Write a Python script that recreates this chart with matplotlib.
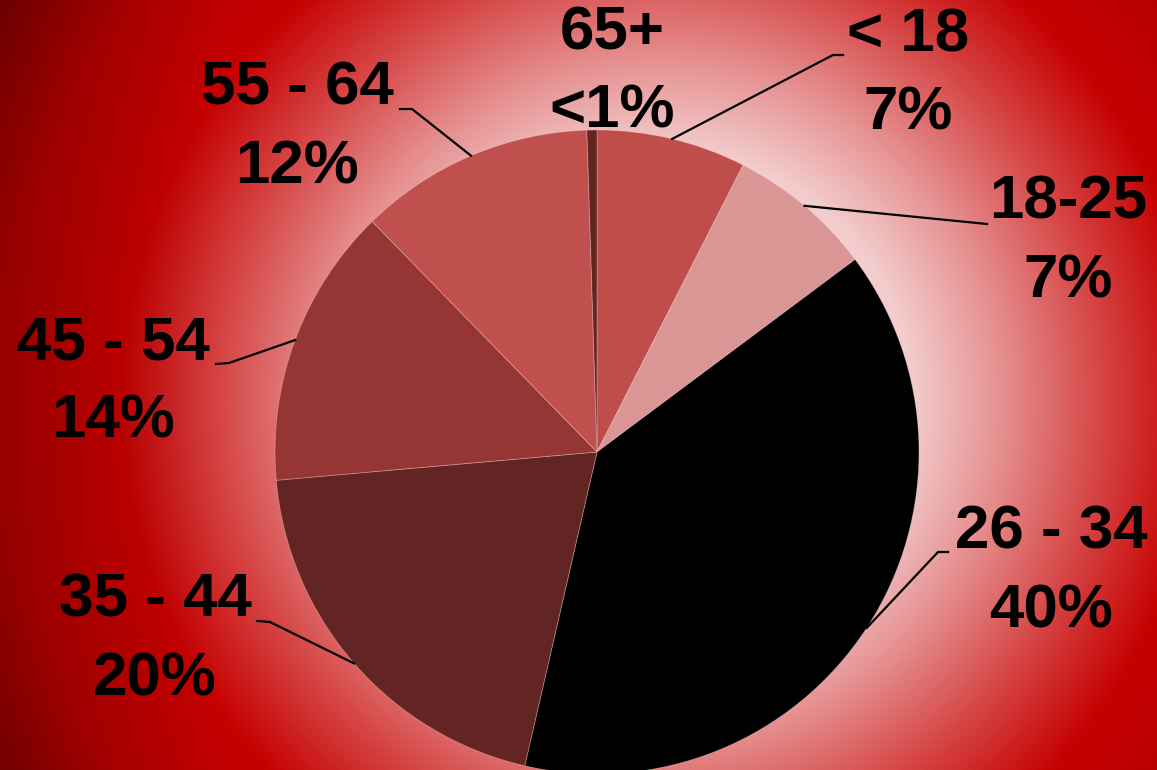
import numpy as np
import matplotlib.pyplot as plt

# datos del grafico (porcentaje por grupo de edad)
grupos = ['< 18', '18-25', '26 - 34', '35 - 44', '45 - 54', '55 - 64', '65+']
valores = [7.5, 7.3, 38.8, 20.0, 14.1, 11.8, 0.5]
etiquetas_pct = ['7%', '7%', '40%', '20%', '14%', '12%', '<1%']
colores = ['#BF4D4A', '#D99694', '#000000', '#632523', '#963634', '#C0504D', '#632523']

W, H = 1157, 770
fig = plt.figure(figsize=(W / 100, H / 100), dpi=100)
ax = fig.add_axes([0, 0, 1, 1])

# fondo con degradado radial (un poco mas oscuro hacia la izquierda)
yy, xx = np.mgrid[0:H, 0:W]
d = np.hypot(xx - 660, yy - 400)
paradas = [0, 250, 340, 440, 540, 660, 800]
r = np.interp(d, paradas, [255, 243, 230, 214, 198, 178, 115])
g = np.interp(d, paradas, [240, 205, 145, 70, 0, 0, 0])
b = np.interp(d, paradas, [240, 205, 145, 70, 0, 0, 0])
oscuro = 1 - 0.15 * np.clip((220 - xx) / 220, 0, 1)
fondo = np.dstack([r * oscuro, g * oscuro, b * oscuro]) / 255
ax.imshow(fondo, extent=(0, W, 0, H), origin='upper', zorder=0)

# pie
cx, cy, rad = 597, H - 452, 322
wedges, _ = ax.pie(valores, colors=colores, startangle=90, counterclock=False,
                   center=(cx, cy), radius=rad, frame=True,
                   wedgeprops=dict(linewidth=0.6, edgecolor=(1, 0.85, 0.85, 0.35)))
ax.set_xlim(0, W)
ax.set_ylim(0, H)
ax.axis('off')

# posicion de etiquetas (x centro, linea base de la 2a linea en pixeles) y lineas guia
pos_etq = [(908, 130), (1068, 297), (1051, 627), (155, 695), (113, 438), (297, 183), (612, 128)]
guias = [[(833, 55), (843, 55)],
         [(987, 224)],
         [(938, 552), (948, 552)],
         [(270, 622), (257, 621)],
         [(229, 363), (216, 364)],
         [(412, 109), (400, 109)],
         []]

for w, grupo, pct, (tx, ty), guia in zip(wedges, grupos, etiquetas_pct, pos_etq, guias):
    ax.text(tx, H - ty, f'{grupo}\n{pct}', ha='center', va='baseline',
            fontsize=44.6, fontweight='bold', family='Liberation Sans',
            linespacing=1.48, color='black', zorder=5)
    if guia:
        ang = np.deg2rad((w.theta1 + w.theta2) / 2)
        px = [cx + rad * np.cos(ang)] + [p[0] for p in guia]
        py = [cy + rad * np.sin(ang)] + [H - p[1] for p in guia]
        ax.plot(px, py, color='black', lw=1.6, zorder=4)

fig.savefig('out.png', dpi=100)
